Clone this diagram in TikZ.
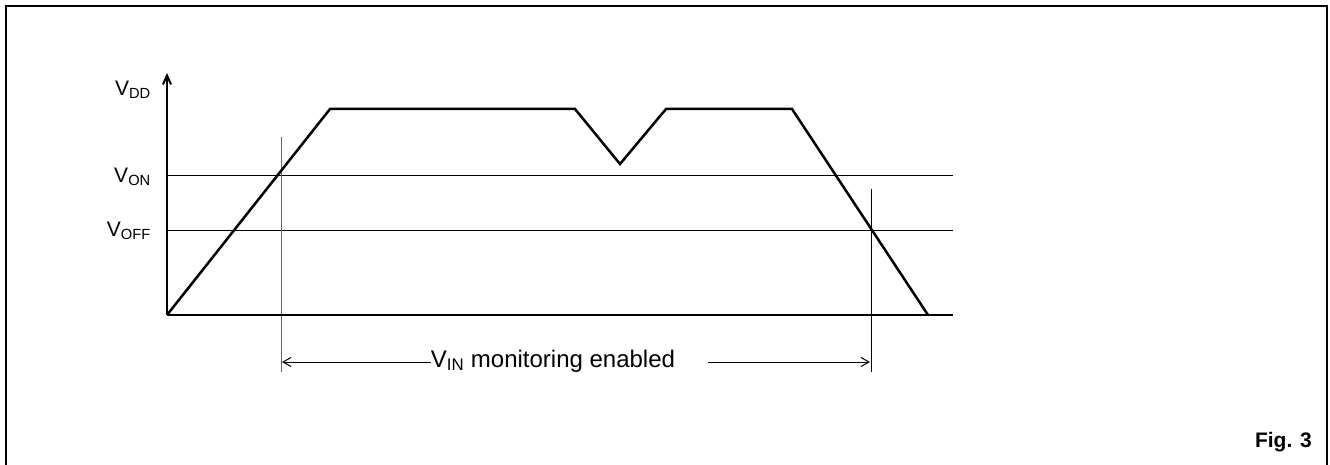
\documentclass[tikz,border=0pt]{standalone}
\usepackage{fontspec}
\setmainfont{Liberation Sans}
\usetikzlibrary{arrows.meta}
\begin{document}
\begin{tikzpicture}[x=1pt,y=-1pt,
  lbl/.style={font=\fontsize{21}{24}\selectfont, inner sep=0pt},
  sig/.style={line width=2.5pt, line join=miter},
  thinline/.style={line width=1pt},
  axisline/.style={line width=2pt},
  arr/.style={-{Straight Barb[length=8pt,width=9pt]}, line width=1pt}]
\useasboundingbox (0,0) rectangle (1330,465);
\draw[line width=2pt] (6,470) -- (6,6) -- (1327,6) -- (1327,470);
% coordinates
\coordinate (O) at (167,315);
\coordinate (Ytop) at (167,73);
\coordinate (Xend) at (953,315);
\coordinate (on0) at (167,176);
\coordinate (on1) at (953,176);
\coordinate (off0) at (167,230);
\coordinate (off1) at (953,230);
\coordinate (p1) at (330,109);
\coordinate (p2) at (575,109);
\coordinate (p3) at (620,164);
\coordinate (p4) at (666,109);
\coordinate (p5) at (792,109);
\coordinate (p6) at (928,315);
\coordinate (v1a) at (281,137);
\coordinate (v1b) at (281,372);
\coordinate (v2a) at (871,189);
\coordinate (v2b) at (871,372);
\coordinate (la) at (282,362);
\coordinate (ra) at (870,362);
% grid lines
\draw[thinline] (on0) -- (on1);
\draw[thinline] (off0) -- (off1);
\draw[thinline, black!60] (v1a) -- (v1b);
\draw[thinline] (v2a) -- (v2b);
% axes
\draw[axisline] (O) -- (Xend);
\draw[axisline, -{Straight Barb[length=9pt,width=8pt]}] (O) -- (Ytop);
% signal
\draw[sig] (O) -- (p1) -- (p2) -- (p3) -- (p4) -- (p5) -- (p6);
% labels
\node[lbl, anchor=east] (vdd) at (151,90) {V\textsubscript{DD}};
\node[lbl, anchor=east] (von) at (151,177) {V\textsubscript{ON}};
\node[lbl, anchor=east] (voff) at (151,231) {V\textsubscript{OFF}};
\node[lbl, font=\fontsize{24}{28}\selectfont] (mon) at (553,361) {V\textsubscript{IN} monitoring enabled};
\coordinate (rs) at ([xshift=33pt]mon.east |- la);
\draw[arr] (mon.west |- la) -- (la);
\draw[arr] (rs) -- (ra);
\node[lbl, font=\fontsize{21}{24}\selectfont\bfseries, anchor=east] (fig) at (1312,442) {Fig. 3};
\end{tikzpicture}
\end{document}
